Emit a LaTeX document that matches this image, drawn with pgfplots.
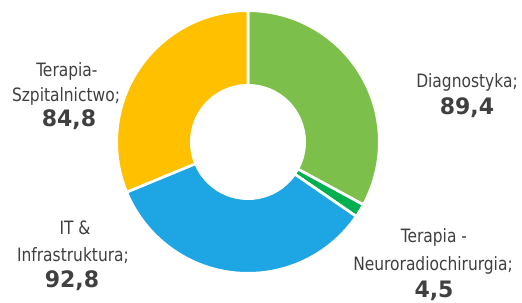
\documentclass[border=0pt]{standalone}
\usepackage{pgfplots}
\pgfplotsset{compat=1.18}
\usepackage{pgfplotstable}
\usepackage{fontspec}
\setmainfont{DejaVu Sans}
\newfontfamily\condfont[FakeStretch=0.935]{DejaVu Sans Condensed}
\newfontfamily\valfont[FakeStretch=0.97]{DejaVu Sans}
\definecolor{cGreen}{HTML}{7CC04B}
\definecolor{cDkGreen}{HTML}{00B050}
\definecolor{cBlue}{HTML}{1EA5E3}
\definecolor{cYellow}{HTML}{FFC000}
\definecolor{tgray}{HTML}{404040}
\pgfplotstableread[col sep=comma]{
name,value,color
Diagnostyka,89.4,cGreen
Neuro,4.5,cDkGreen
IT,92.8,cBlue
Szpital,84.8,cYellow
}\piedata
\begin{document}
\begin{tikzpicture}
\def\total{0}
\pgfplotsforeachungrouped \i in {0,...,3}{%
  \pgfplotstablegetelem{\i}{value}\of\piedata
  \pgfmathsetmacro\total{\total+\pgfplotsretval}}
\begin{axis}[x=0.75pt,y=0.75pt,xmin=0,xmax=522,ymin=0,ymax=303,
  hide axis,clip=false]
\path (axis cs:0,0) rectangle (axis cs:522,303);
\def\cumul{0}
\pgfplotsforeachungrouped \i in {0,...,3}{%
  \pgfplotstablegetelem{\i}{value}\of\piedata
  \let\sliceval\pgfplotsretval
  \pgfplotstablegetelem{\i}{color}\of\piedata
  \let\slicecol\pgfplotsretval
  \pgfmathsetmacro\aS{90-360*(\cumul/\total)}
  \pgfmathsetmacro\cumul{\cumul+\sliceval}
  \pgfmathsetmacro\aE{90-360*(\cumul/\total)}
  \edef\temp{\noexpand\fill[\slicecol, draw=white, line width=2pt, line join=miter]
    (axis cs:248,161) ++(\aS:98.5pt) arc[start angle=\aS, end angle=\aE, radius=98.5pt]
    -- ([shift={(\aE:42.5pt)}]axis cs:248,161)
    arc[start angle=\aE, end angle=\aS, radius=42.5pt] -- cycle;}
  \temp
}
\tikzset{lab/.style={anchor=base, inner sep=0pt, text=tgray, font=\condfont\fontsize{13.8}{16}\selectfont},
  val/.style={anchor=base, inner sep=0pt, text=tgray, font=\valfont\fontsize{17}{20}\selectfont\bfseries}}
\node[lab] at (axis cs:467,215) {Diagnostyka;};
\node[val] at (axis cs:467,188) {89,4};
\node[lab] at (axis cs:67,226) {Terapia-};
\node[lab] at (axis cs:66,201.3) {Szpitalnictwo;};
\node[val] at (axis cs:69,176) {84,8};
\node[lab] at (axis cs:434,60) {Terapia -};
\node[lab] at (axis cs:433,32) {Neuroradiochirurgia;};
\node[val] at (axis cs:434,5) {4,5};
\node[lab] at (axis cs:75,68) {IT \&};
\node[lab] at (axis cs:73,41.3) {Infrastruktura;};
\node[val] at (axis cs:72,15) {92,8};
\end{axis}
\end{tikzpicture}
\end{document}
